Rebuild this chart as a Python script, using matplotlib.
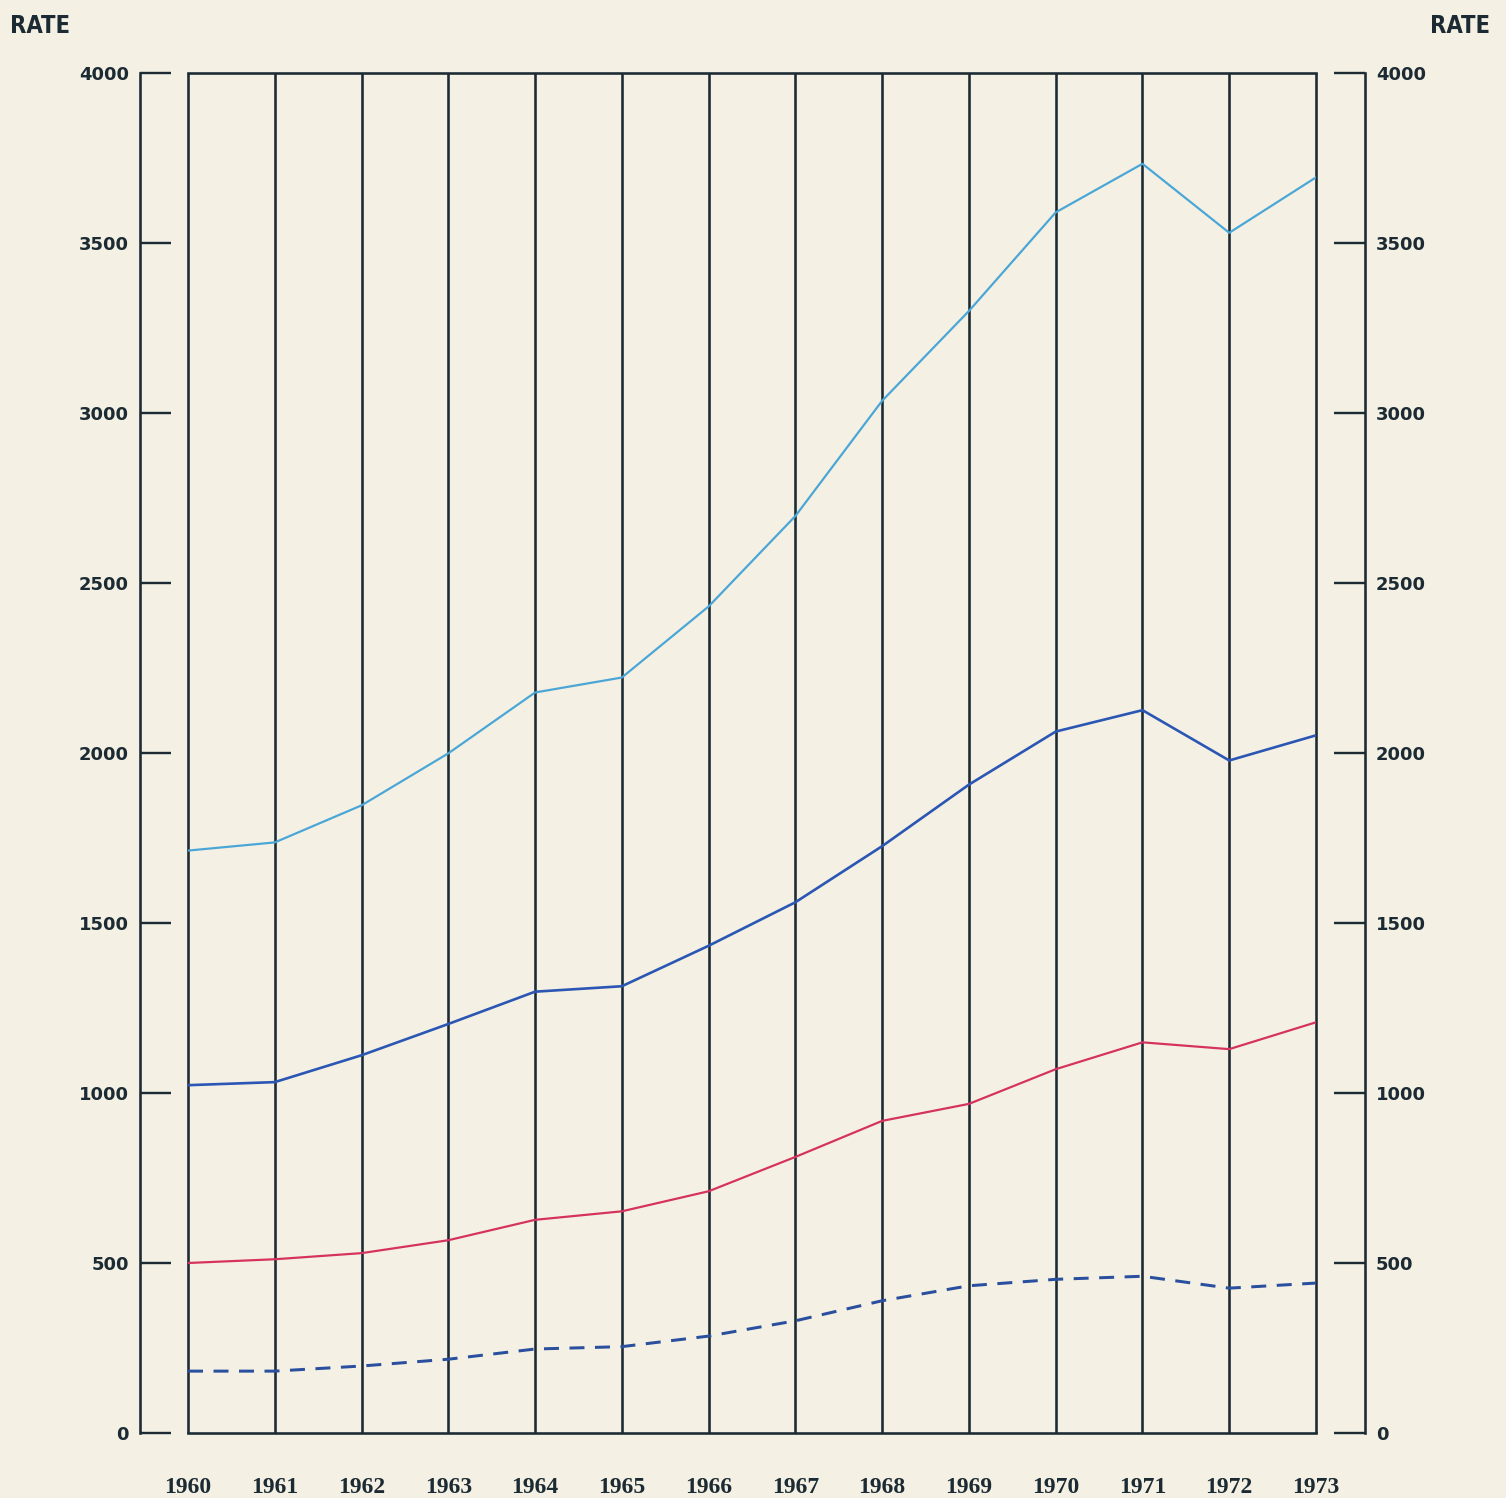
import matplotlib
matplotlib.use("Agg")
import matplotlib.pyplot as plt
from matplotlib.ticker import FixedLocator

years = [1960, 1961, 1962, 1963, 1964, 1965, 1966, 1967, 1968, 1969, 1970, 1971, 1972, 1973]
series_top = [1713, 1737, 1846, 1999, 2178, 2222, 2431, 2697, 3036, 3300, 3590, 3733, 3530, 3693]
series_blue = [1023, 1032, 1111, 1203, 1298, 1314, 1433, 1561, 1726, 1907, 2063, 2126, 1978, 2052]
series_red = [500, 511, 529, 567, 627, 652, 711, 812, 918, 968, 1070, 1149, 1129, 1208]
series_dashed = [182, 182, 197, 217, 247, 254, 285, 330, 389, 433, 452, 461, 426, 441]
y_ticks = [0, 500, 1000, 1500, 2000, 2500, 3000, 3500, 4000]
y_label = "RATE"

W, H = 1506, 1498
PX = 72 / 100  # points per pixel
bg = "#f4f1e4"
ink = "#1c2b33"

fig = plt.figure(figsize=(W / 100, H / 100), dpi=100, facecolor=bg)
left, right = 188 / W, 1316 / W
bottom, top = (H - 1433) / H, (H - 73) / H
ax = fig.add_axes([left, bottom, right - left, top - bottom], facecolor=bg)
ax.set_xlim(years[0], years[-1])
ax.set_ylim(y_ticks[0], y_ticks[-1])

grid_lw = 2.6 * PX
ax.vlines(years, y_ticks[0], y_ticks[-1], colors=ink, linewidth=grid_lw, clip_on=False, zorder=1)

for s in ["top", "bottom"]:
    ax.spines[s].set_color(ink)
    ax.spines[s].set_linewidth(grid_lw)
ax.spines["left"].set_position(("outward", 48 * PX))
ax.spines["right"].set_position(("outward", 49 * PX))
for s in ["left", "right"]:
    ax.spines[s].set_color(ink)
    ax.spines[s].set_linewidth(grid_lw)

ax.yaxis.set_major_locator(FixedLocator(y_ticks))
ax.set_yticklabels([str(v) for v in y_ticks])
ax.tick_params(axis="y", which="both", direction="in", length=31 * PX, width=2.4 * PX, color=ink,
               left=True, right=True, labelleft=True, labelright=True, pad=11 * PX,
               labelsize=13, labelcolor=ink)
for t in ax.yaxis.get_major_ticks():
    for lab in (t.label1, t.label2):
        lab.set_fontweight("bold")
        lab.set_family("DejaVu Sans")

ax.xaxis.set_major_locator(FixedLocator(years))
ax.set_xticklabels([str(y) for y in years])
ax.tick_params(axis="x", length=0, pad=44 * PX, labelsize=17, labelcolor=ink)
for lab in ax.get_xticklabels():
    lab.set_fontweight("bold")
    lab.set_family("Liberation Serif")

lw = 2.2 * PX
ax.plot(years, series_top, color="#4aa6d6", linewidth=lw, zorder=3)
ax.plot(years, series_blue, color="#2b56b4", linewidth=lw * 1.2, zorder=3)
ax.plot(years, series_red, color="#d6325e", linewidth=lw, zorder=3)
ax.plot(years, series_dashed, color="#2a4f9e", linewidth=3.0 * PX, dashes=(5, 3.5), zorder=3)

fig.text(10 / W, 1 - 26 / H, y_label, ha="left", va="center", fontsize=17, color=ink,
         family="DejaVu Sans", fontweight="bold", fontstretch="condensed")
fig.text(1490 / W, 1 - 26 / H, y_label, ha="right", va="center", fontsize=17, color=ink,
         family="DejaVu Sans", fontweight="bold", fontstretch="condensed")

fig.savefig("out.png", dpi=100, facecolor=bg)
